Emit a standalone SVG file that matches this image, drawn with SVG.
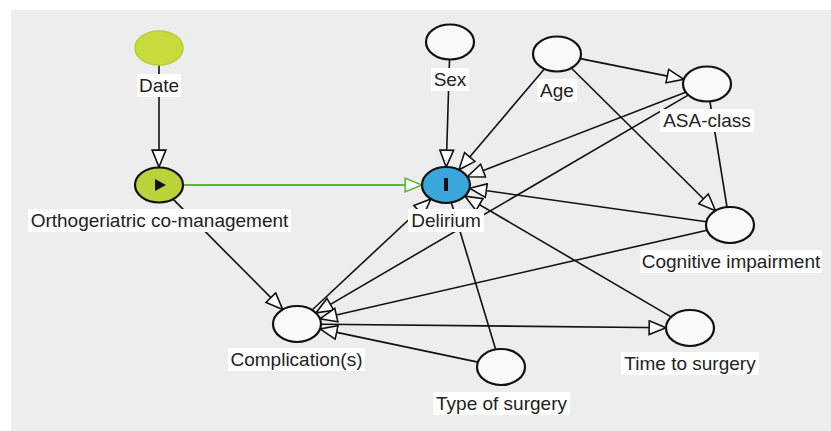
<svg xmlns="http://www.w3.org/2000/svg" width="831" height="431" viewBox="0 0 831 431">
<style>
.e{stroke:#111;stroke-width:1.6;fill:none}
.g{stroke:#5cb63c;stroke-width:2;fill:none}
.n{fill:#f9f9f9;stroke:#111;stroke-width:2.2}
.lb{fill:#ffffff}
.t{font-family:"Liberation Sans",Arial,sans-serif;font-size:19px;fill:#222;text-anchor:middle}
</style>
<defs>
<marker id="a" markerUnits="userSpaceOnUse" markerWidth="20" markerHeight="16" viewBox="-1 -1 19 15" refX="16" refY="6.5" orient="auto">
<path d="M0,0 L16,6.5 L0,13 Z" fill="#fff" stroke="#111" stroke-width="1.5"/>
</marker>
<marker id="ag" markerUnits="userSpaceOnUse" markerWidth="20" markerHeight="16" viewBox="-1 -1 19 15" refX="16" refY="6.5" orient="auto">
<path d="M0,0 L16,6.5 L0,13 Z" fill="#fff" stroke="#5cb63c" stroke-width="1.5"/>
</marker>
</defs>
<rect x="11" y="10" width="820" height="421" fill="#ededed"/>
<g id="connectors">
<line class="e" x1="159" y1="65" x2="159" y2="167" marker-end="url(#a)"/>
<line class="g" x1="183" y1="185" x2="422" y2="185" marker-end="url(#ag)"/>
<line class="e" x1="173.3" y1="199.4" x2="282.7" y2="309.6" marker-end="url(#a)"/>
<line class="e" x1="449.5" y1="60" x2="446.2" y2="167" marker-end="url(#a)"/>
<line class="e" x1="544.1" y1="69.2" x2="458.9" y2="169.8" marker-end="url(#a)"/>
<line class="e" x1="580.2" y1="58.6" x2="683.8" y2="79.4" marker-end="url(#a)"/>
<line class="e" x1="571.5" y1="68.3" x2="715.5" y2="210.7" marker-end="url(#a)"/>
<line class="e" x1="685.6" y1="92.3" x2="467.4" y2="176.7" marker-end="url(#a)"/>
<line class="e" x1="688.1" y1="95.1" x2="315.9" y2="312.9" marker-end="url(#a)"/>
<line class="e" x1="710" y1="102" x2="727" y2="207"/>
<line class="e" x1="706.4" y1="221.7" x2="469.6" y2="188.3" marker-end="url(#a)"/>
<line class="e" x1="707.1" y1="230.2" x2="319.9" y2="318.8" marker-end="url(#a)"/>
<line class="e" x1="312.1" y1="310" x2="430.9" y2="199" marker-end="url(#a)"/>
<line class="e" x1="321" y1="324.2" x2="666" y2="327.8" marker-end="url(#a)"/>
<line class="e" x1="477.9" y1="362.1" x2="320.1" y2="328.9" marker-end="url(#a)"/>
<line class="e" x1="495.7" y1="349.5" x2="451.3" y2="202.5"/>
<line class="e" x1="671.1" y1="316.9" x2="464.9" y2="196.1" marker-end="url(#a)"/>
</g>
<g id="date">
<ellipse cx="159" cy="48" rx="24" ry="17" fill="#c9db3c" stroke="#b9cc36" stroke-width="1.5"/>
<rect class="lb" x="137" y="74" width="44" height="23"/>
<text class="t" x="159" y="92">Date</text>
</g>
<g id="ortho">
<ellipse class="n" cx="159" cy="185" rx="24" ry="17.5" style="fill:#bdd13a"/>
<path d="M155,179 L166,185 L155,191 Z" fill="#111"/>
<rect class="lb" x="28" y="209" width="263" height="23"/>
<text class="t" x="159.5" y="227">Orthogeriatric co-management</text>
</g>
<g id="sex">
<ellipse class="n" cx="450" cy="42" rx="24" ry="17.5"/>
<rect class="lb" x="431" y="68" width="38" height="23"/>
<text class="t" x="450" y="86">Sex</text>
</g>
<g id="age">
<ellipse class="n" cx="557" cy="54" rx="24" ry="17.5"/>
<rect class="lb" x="537" y="79" width="40" height="23"/>
<text class="t" x="557" y="97">Age</text>
</g>
<g id="asa">
<ellipse class="n" cx="707" cy="84" rx="24" ry="17.5"/>
<rect class="lb" x="660" y="109" width="94" height="23"/>
<text class="t" x="707" y="127">ASA-class</text>
</g>
<g id="delirium">
<ellipse class="n" cx="446" cy="185" rx="24" ry="18" style="fill:#3aa6da"/>
<rect x="444" y="178" width="4" height="13" fill="#111"/>
<rect class="lb" x="408" y="209" width="76" height="23"/>
<text class="t" x="446" y="227">Delirium</text>
</g>
<g id="cognitive">
<ellipse class="n" cx="730" cy="225" rx="24" ry="18"/>
<rect class="lb" x="640" y="250" width="182" height="23"/>
<text class="t" x="731" y="268">Cognitive impairment</text>
</g>
<g id="complications">
<ellipse class="n" cx="297" cy="324" rx="24" ry="18"/>
<rect class="lb" x="228" y="348" width="137" height="23"/>
<text class="t" x="296.5" y="366">Complication(s)</text>
</g>
<g id="type">
<ellipse class="n" cx="501" cy="367" rx="24" ry="18"/>
<rect class="lb" x="433" y="392" width="137" height="23"/>
<text class="t" x="501.5" y="410">Type of surgery</text>
</g>
<g id="time">
<ellipse class="n" cx="690" cy="328" rx="24" ry="18"/>
<rect class="lb" x="621" y="352" width="138" height="23"/>
<text class="t" x="690" y="370">Time to surgery</text>
</g>
</svg>
